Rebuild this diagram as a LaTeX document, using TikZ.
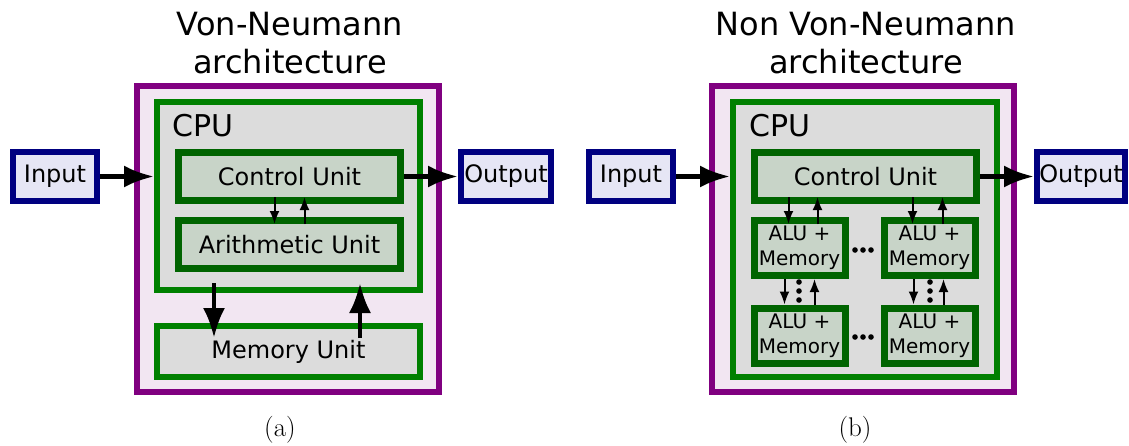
\documentclass[tikz,border=0pt]{standalone}
\usepackage{fontspec}
\setsansfont{DejaVu Sans}
\usetikzlibrary{arrows.meta}

\definecolor{ionavy}{HTML}{000080}
\definecolor{iofill}{HTML}{E6E6F5}
\definecolor{archpurple}{HTML}{800080}
\definecolor{archfill}{HTML}{F2E6F2}
\definecolor{cpugreen}{HTML}{008000}
\definecolor{cpufill}{HTML}{DCDCDC}
\definecolor{unitgreen}{HTML}{006400}
\definecolor{unitfill}{HTML}{C8D4C8}

\tikzset{
  iobox/.style={draw=ionavy, fill=iofill, line width=6pt, inner sep=0pt,
    minimum width=84pt, minimum height=49pt, font=\sffamily\fontsize{24}{29}\selectfont},
  archbox/.style={draw=archpurple, fill=archfill, line width=6pt, inner sep=0pt,
    minimum width=302pt, minimum height=306pt},
  cpubox/.style={draw=cpugreen, fill=cpufill, line width=6pt, inner sep=0pt,
    font=\sffamily\fontsize{24}{29}\selectfont},
  unitbox/.style={draw=unitgreen, fill=unitfill, line width=7pt, inner sep=0pt,
    minimum width=222pt, minimum height=48pt, font=\sffamily\fontsize{24}{29}\selectfont},
  alubox/.style={draw=unitgreen, fill=unitfill, line width=7pt, inner sep=0pt,
    minimum width=91pt, minimum height=55pt, align=center,
    font=\sffamily\fontsize{20}{25}\selectfont},
  cputext/.style={anchor=base west, inner sep=0pt, font=\sffamily\fontsize{30}{36}\selectfont},
  titletext/.style={anchor=base, inner sep=0pt, align=center,
    font=\sffamily\fontsize{32}{38}\selectfont},
  captext/.style={anchor=base, inner sep=0pt, font=\rmfamily\fontsize{27}{32}\selectfont},
  bigarrow/.style={line width=4.3pt, -{Latex[length=30pt,width=22pt]}},
  smallarrow/.style={line width=2pt, -{Latex[length=13pt,width=10pt]}},
}

\begin{document}
\begin{tikzpicture}[x=1pt,y=-1pt]
    \useasboundingbox (0,0) rectangle (1129,445);

    % (a) Von-Neumann
    \node[titletext] (titleA) at (290,73) {Von-Neumann\\architecture};
    \node[archbox] (archA) at (288,239) {};
    \node[cpubox, minimum width=263pt, minimum height=188pt] (cpuA) at (288.5,196) {};
    \node[cputext] (cpuAtxt) at (172.5,136) {CPU};
    \node[unitbox] (ctlA) at (289.5,176.5) {Control Unit};
    \node[unitbox] (aluA) at (289.5,244.5) {Arithmetic Unit};
    \node[cpubox, minimum width=263pt, minimum height=51pt] (memA) at (288.5,351.5) {Memory Unit};
    \node[iobox] (inA) at (55,176.5) {Input};
    \node[iobox, minimum width=90pt] (outA) at (506,176.5) {Output};

    \draw[bigarrow] (inA.east) -- (inA.east -| cpuA.west);
    \draw[bigarrow] (ctlA.east) -- (outA.west);
    \draw[smallarrow] ([xshift=-15pt,yshift=7pt]ctlA.south) -- ([xshift=-15pt,yshift=-7pt]aluA.north);
    \draw[smallarrow] ([xshift=15pt,yshift=-7pt]aluA.north) -- ([xshift=15pt,yshift=7pt]ctlA.south);
    % CPU <-> memory
    \draw[bigarrow] ([xshift=60pt,yshift=10pt]memA.west |- cpuA.south) -- ([xshift=60pt,yshift=-15pt]memA.north west);
    \draw[bigarrow] ([xshift=-63pt,yshift=-15pt]memA.north east) -- ([xshift=-63pt,yshift=10pt]memA.east |- cpuA.south);

    \node[captext] (capA) at (280,436) {(a)};

    % (b) Non Von-Neumann
    \node[titletext] (titleB) at (866,73) {Non Von-Neumann\\architecture};
    \node[archbox] (archB) at (863,239) {};
    \node[cpubox, minimum width=264pt, minimum height=275pt] (cpuB) at (865,239.5) {};
    \node[cputext] (cpuBtxt) at (749,136) {CPU};
    \node[unitbox] (ctlB) at (865.5,176.5) {Control Unit};
    \node[alubox] (alu11) at (799.5,248) {ALU +\\Memory};
    \node[alubox] (alu12) at (929.5,248) {ALU +\\Memory};
    \node[alubox] (alu21) at (799.5,335.5) {ALU +\\Memory};
    \node[alubox] (alu22) at (929.5,335.5) {ALU +\\Memory};
    \node[iobox] (inB) at (631,176.5) {Input};
    \node[iobox, minimum width=88pt] (outB) at (1081,176.5) {Output};

    \draw[bigarrow] (inB.east) -- (inB.east -| cpuB.west);
    \draw[bigarrow] (ctlB.east) -- (outB.west);
    % control unit <-> first row
    \draw[smallarrow] ([xshift=-11pt,yshift=7pt]alu11.north |- ctlB.south) -- ([xshift=-11pt,yshift=-7pt]alu11.north);
    \draw[smallarrow] ([xshift=18pt,yshift=-7pt]alu11.north) -- ([xshift=18pt,yshift=7pt]alu11.north |- ctlB.south);
    \draw[smallarrow] ([xshift=-17pt,yshift=7pt]alu12.north |- ctlB.south) -- ([xshift=-17pt,yshift=-7pt]alu12.north);
    \draw[smallarrow] ([xshift=13pt,yshift=-7pt]alu12.north) -- ([xshift=13pt,yshift=7pt]alu12.north |- ctlB.south);
    % first row <-> second row
    \draw[smallarrow] ([xshift=-15pt]alu11.south) -- ([xshift=-15pt]alu21.north);
    \draw[smallarrow] ([xshift=15pt]alu21.north) -- ([xshift=15pt]alu11.south);
    \draw[smallarrow] ([xshift=-16pt]alu12.south) -- ([xshift=-16pt]alu22.north);
    \draw[smallarrow] ([xshift=14pt]alu22.north) -- ([xshift=14pt]alu12.south);

    % dots
    \fill (855,250) circle (2.8) (863,250) circle (2.8) (871,250) circle (2.8);
    \fill (855,337) circle (2.8) (863,337) circle (2.8) (871,337) circle (2.8);
    \fill (799,282) circle (2.8) (799,291) circle (2.8) (799,300) circle (2.8);
    \fill (930,282) circle (2.8) (930,291) circle (2.8) (930,300) circle (2.8);

    \node[captext] (capB) at (855,436) {(b)};
\end{tikzpicture}
\end{document}
